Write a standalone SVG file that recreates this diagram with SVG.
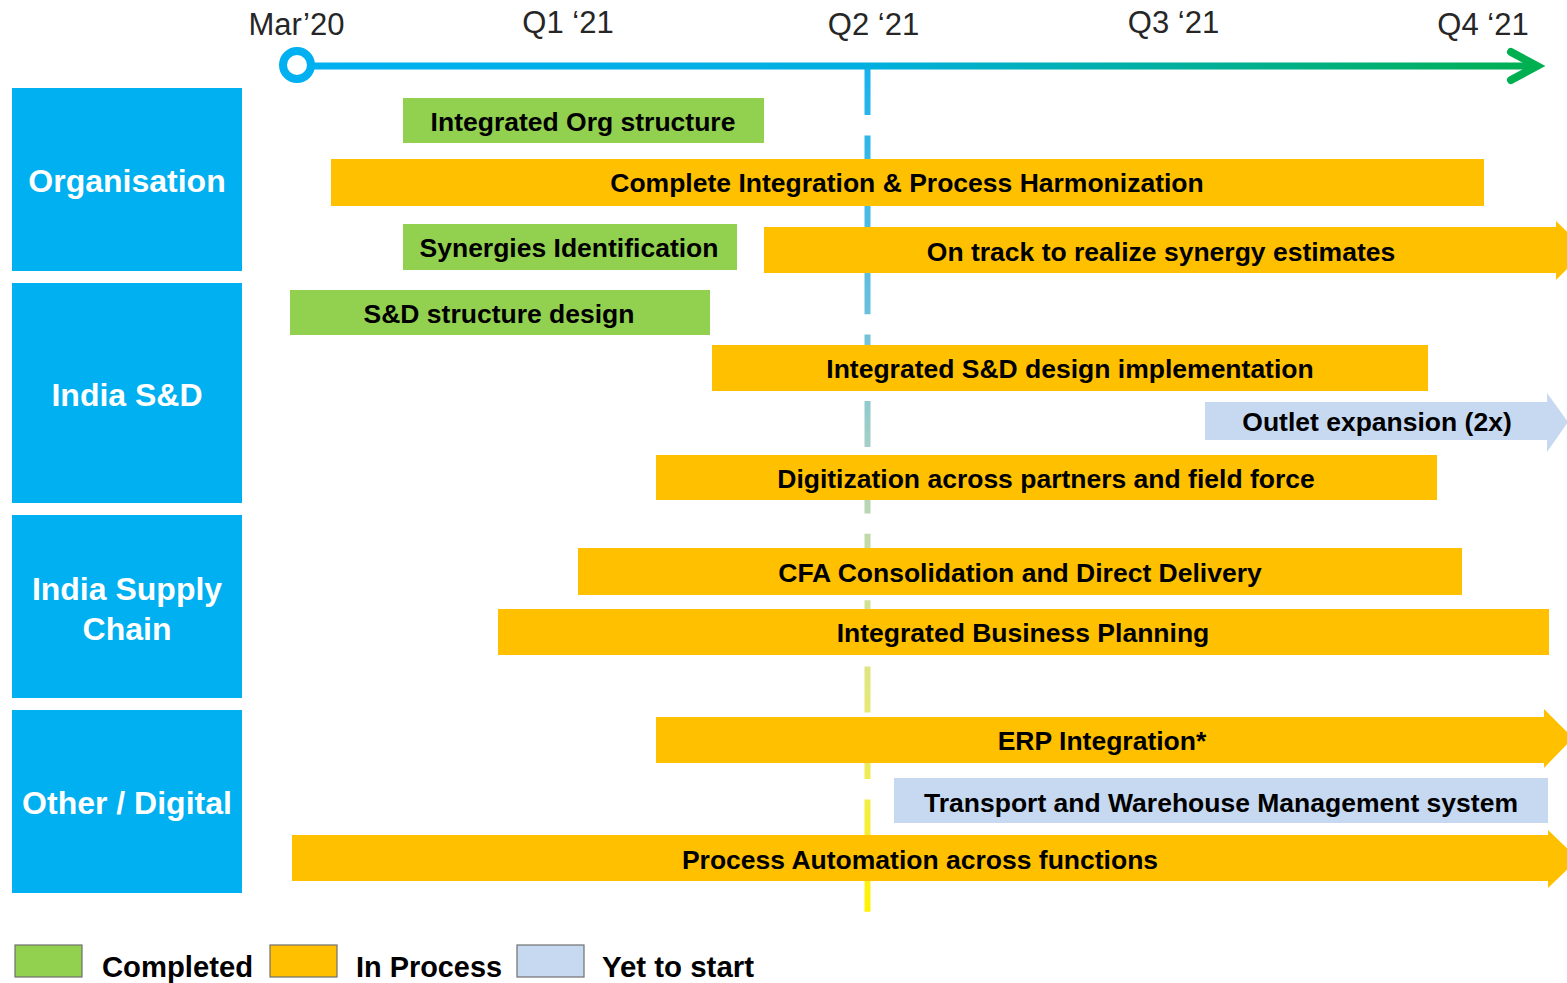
<svg xmlns="http://www.w3.org/2000/svg" width="1567" height="983" viewBox="0 0 1567 983">
<style>
.cat{fill:#00B0F0}
.catt{fill:#fff;font-family:"Liberation Sans",Arial,sans-serif;font-weight:bold;font-size:32px;text-anchor:middle}
.g{fill:#92D050}
.o{fill:#FFC000}
.b{fill:#C6D9F1}
.bt{fill:#000;font-family:"Liberation Sans",Arial,sans-serif;font-weight:bold;font-size:26.5px;text-anchor:middle}
.tl{fill:#262626;font-family:"Liberation Sans",Arial,sans-serif;font-size:31px;text-anchor:middle}
.lg{fill:#000;font-family:"Liberation Sans",Arial,sans-serif;font-weight:bold;font-size:29px}
.lb{stroke:#6f6f6f;stroke-width:1.2}
</style>
<defs>
<linearGradient id="hg" gradientUnits="userSpaceOnUse" x1="297" y1="0" x2="1543" y2="0">
<stop offset="0" stop-color="#00B0F0"/>
<stop offset="0.45" stop-color="#00AFE0"/>
<stop offset="1" stop-color="#00B050"/>
</linearGradient>
<linearGradient id="vg" gradientUnits="userSpaceOnUse" x1="0" y1="68" x2="0" y2="915">
<stop offset="0" stop-color="#18B2EE"/>
<stop offset="0.3" stop-color="#6DC0DC"/>
<stop offset="0.45" stop-color="#A6CFC6"/>
<stop offset="0.6" stop-color="#CCDE9C"/>
<stop offset="0.78" stop-color="#EAEA70"/>
<stop offset="1" stop-color="#FFF200"/>
</linearGradient>
</defs>

<g id="connectors">
<line x1="867.5" y1="69" x2="867.5" y2="915" stroke="url(#vg)" stroke-width="6" stroke-dasharray="46 20.4"/>
<line x1="308" y1="66" x2="1534" y2="66" stroke="url(#hg)" stroke-width="7"/>
<polyline points="1511,52 1537,66 1511,80" fill="none" stroke="#00B050" stroke-width="8" stroke-linecap="round" stroke-linejoin="miter"/>
<circle cx="297" cy="65" r="14" fill="#fff" stroke="#00B0F0" stroke-width="8"/>
</g>

<g id="timeline-labels">
<text class="tl" x="296.5" y="35">Mar’20</text>
<text class="tl" x="568" y="33">Q1 ‘21</text>
<text class="tl" x="873.5" y="35">Q2 ‘21</text>
<text class="tl" x="1173.5" y="33">Q3 ‘21</text>
<text class="tl" x="1483" y="35">Q4 ‘21</text>
</g>

<g id="cat-organisation"><rect class="cat" x="12" y="88" width="230" height="183"/><text class="catt" x="127" y="192">Organisation</text></g>
<g id="cat-india-sd"><rect class="cat" x="12" y="283" width="230" height="220"/><text class="catt" x="127" y="406">India S&amp;D</text></g>
<g id="cat-india-supply"><rect class="cat" x="12" y="515" width="230" height="183"/><text class="catt" x="127" y="600">India Supply</text><text class="catt" x="127" y="640">Chain</text></g>
<g id="cat-other"><rect class="cat" x="12" y="710" width="230" height="183"/><text class="catt" x="127" y="814">Other / Digital</text></g>

<g id="bar-org-structure"><rect class="g" x="403" y="98" width="361" height="45"/><text class="bt" x="583" y="131">Integrated Org structure</text></g>
<g id="bar-complete-integration"><rect class="o" x="331" y="159" width="1153" height="47"/><text class="bt" x="907" y="192">Complete Integration &amp; Process Harmonization</text></g>
<g id="bar-synergies"><rect class="g" x="403" y="224" width="334" height="46"/><text class="bt" x="569" y="257">Synergies Identification</text></g>
<g id="bar-on-track"><polygon class="o" points="764,227 1556,227 1556,221 1586,250 1556,280 1556,273 764,273"/><text class="bt" x="1161" y="261">On track to realize synergy estimates</text></g>
<g id="bar-sd-design"><rect class="g" x="290" y="290" width="420" height="45"/><text class="bt" x="499" y="323">S&amp;D structure design</text></g>
<g id="bar-sd-impl"><rect class="o" x="712" y="345" width="716" height="46"/><text class="bt" x="1070" y="378">Integrated S&amp;D design implementation</text></g>
<g id="bar-outlet"><polygon class="b" points="1205,402 1547,402 1547,393 1568,422 1547,452 1547,440 1205,440"/><text class="bt" x="1377" y="431">Outlet expansion (2x)</text></g>
<g id="bar-digitization"><rect class="o" x="656" y="455" width="781" height="45"/><text class="bt" x="1046" y="488">Digitization across partners and field force</text></g>
<g id="bar-cfa"><rect class="o" x="578" y="548" width="884" height="47"/><text class="bt" x="1020" y="582">CFA Consolidation and Direct Delivery</text></g>
<g id="bar-ibp"><rect class="o" x="498" y="609" width="1051" height="46"/><text class="bt" x="1023" y="642">Integrated Business Planning</text></g>
<g id="bar-erp"><polygon class="o" points="656,717 1544,717 1544,709 1573,738 1544,768 1544,763 656,763"/><text class="bt" x="1102" y="750">ERP Integration*</text></g>
<g id="bar-twms"><rect class="b" x="894" y="778" width="654" height="45"/><text class="bt" x="1221" y="812">Transport and Warehouse Management system</text></g>
<g id="bar-automation"><polygon class="o" points="292,835 1548,835 1548,830 1578,859 1548,888 1548,881 292,881"/><text class="bt" x="920" y="869">Process Automation across functions</text></g>

<g id="legend">
<rect class="g lb" x="15" y="945" width="67" height="32"/>
<text class="lg" x="102" y="977" textLength="151" lengthAdjust="spacingAndGlyphs">Completed</text>
<rect class="o lb" x="270" y="945" width="67" height="32"/>
<text class="lg" x="356" y="977" textLength="146" lengthAdjust="spacingAndGlyphs">In Process</text>
<rect class="b lb" x="517" y="945" width="67" height="32"/>
<text class="lg" x="602" y="977" textLength="152" lengthAdjust="spacingAndGlyphs">Yet to start</text>
</g>
</svg>
